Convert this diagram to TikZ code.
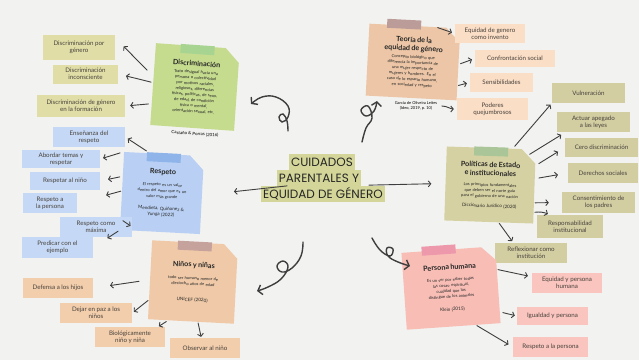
\documentclass[tikz,border=0pt]{standalone}
\usepackage{fontspec}
\setmainfont{Lato}
\newfontfamily\headfont{Poppins}
\usetikzlibrary{arrows.meta,shapes.misc}

\definecolor{paper}{RGB}{242,242,240}
\definecolor{ink}{RGB}{62,62,62}
\definecolor{txt}{RGB}{72,66,60}
\definecolor{centre}{RGB}{211,214,152}
\definecolor{discbox}{RGB}{224,222,166}
\definecolor{discfill}{RGB}{197,219,142}
\definecolor{disctab}{RGB}{168,212,146}
\definecolor{respbox}{RGB}{197,217,246}
\definecolor{respfill}{RGB}{185,208,244}
\definecolor{resptab}{RGB}{142,180,234}
\definecolor{ninbox}{RGB}{242,206,172}
\definecolor{ninfill}{RGB}{240,202,168}
\definecolor{nintab}{RGB}{198,162,156}
\definecolor{teobox}{RGB}{251,222,198}
\definecolor{teofill}{RGB}{236,198,166}
\definecolor{teotab}{RGB}{188,156,152}
\definecolor{polbox}{RGB}{211,206,162}
\definecolor{polfill}{RGB}{214,209,162}
\definecolor{poltab}{RGB}{170,198,152}
\definecolor{perbox}{RGB}{249,197,190}
\definecolor{perfill}{RGB}{248,190,182}
\definecolor{pertab}{RGB}{238,152,172}

\newcommand{\tinytext}{\fontsize{4.1}{5.6}\selectfont}
\newcommand{\notetitle}{\fontsize{7.2}{8.6}\selectfont\bfseries}
\newcommand{\citetext}{\fontsize{4.6}{6}\selectfont}

\begin{document}
\begin{tikzpicture}[x=1pt, y=-1pt,
    box/.style={rectangle, inner sep=1pt, align=center, text=txt,
        font=\fontsize{6.2}{7.2}\selectfont},
    note/.style={chamfered rectangle, chamfered rectangle corners=north east,
        chamfered rectangle xsep=7pt, chamfered rectangle ysep=7pt,
        inner sep=2pt, align=center, text=black!85, font=\tinytext},
    tab/.style={rectangle, minimum width=34pt, minimum height=9pt, inner sep=0pt},
    arr/.style={draw=ink, line width=0.9pt, line cap=round,
        -{Straight Barb[length=2.5pt,width=6pt]}},
    curl/.style={draw=ink, line width=1.4pt, line cap=round,
        -{Straight Barb[length=4pt,width=10pt]}},
    head/.style={fill=centre, inner sep=2pt, minimum height=16.5pt, text=black!85,
        font=\headfont\fontsize{12}{12.5}\selectfont}
]
    % Paper
    \path[use as bounding box, fill=paper] (0,0) rectangle (639,360);

    % Central title
    \node[head] (c3) at (323,194) {EQUIDAD DE GÉNERO};
    \node[head] (c2) at (319,178) {PARENTALES Y};
    \node[head] (c1) at (322,162) {CUIDADOS};

    % Discriminacion
    \node[note, fill=discfill, rotate=-4, minimum width=70pt, minimum height=82pt, text width=66pt] (discnote) at (195,87)
        {{\notetitle Discriminación\par}\vspace{2pt}
         Trato desigual hacia una\\persona o colectividad\\por motivos raciales,\\religiosos, diferencias\\físicas, políticas, de sexo,\\de edad, de condición\\física o mental,\\orientación sexual, etc.\par};
    \node[tab, fill=disctab, rotate=-4, anchor=north] (disctab) at ([yshift=1pt]discnote.north) {};
    \node[font=\fontsize{4.4}{5}\selectfont, rotate=-4] (disccite) at (195,134) {Castaño \& Porras (2016)};
    \node[box, fill=discbox, minimum width=72pt, minimum height=25pt] (dgen) at (79,47.5) {Discriminación por\\género};
    \node[box, fill=discbox, minimum width=65pt, minimum height=19pt] (dinc) at (85.5,74) {Discriminación\\inconsciente};
    \node[box, fill=discbox, minimum width=88pt, minimum height=22pt] (dfor) at (81,106) {Discriminación de género\\en la formación};

    % Respeto
    \node[note, fill=respfill, rotate=-3, minimum width=66pt, minimum height=78pt, text width=62pt] (respnote) at (162,193)
        {{\notetitle Respeto\par}\vspace{6pt}
         {\fontsize{4.1}{6}\selectfont El respeto es un valor\\dentro del amor que es un\\valor más grande\par}\vspace{6pt}
         {\citetext Mendieta, Quiñonez \&\\Yunga (2022)\par}};
    \node[tab, fill=resptab, rotate=-3, anchor=north] (resptab) at ([yshift=1pt]respnote.north) {};
    \node[box, fill=respbox, minimum width=72pt, minimum height=20pt] (rens) at (89,137) {Enseñanza del\\respeto};
    \node[box, fill=respbox, minimum width=78pt, minimum height=18pt] (rabo) at (61,159) {Abordar temas y\\respetar};
    \node[box, fill=respbox, minimum width=70pt, minimum height=18pt] (rnin) at (65,181) {Respetar al niño};
    \node[box, fill=respbox, minimum width=54pt, minimum height=20pt] (rper) at (50,203) {Respeto a\\la persona};
    \node[box, fill=respbox, minimum width=72pt, minimum height=20pt] (rmax) at (96,227) {Respeto como\\máxima};
    \node[box, fill=respbox, minimum width=71pt, minimum height=21pt] (rpre) at (57.5,247.5) {Predicar con el\\ejemplo};

    % Ninos y ninas
    \node[note, fill=ninfill, rotate=-3, minimum width=73pt, minimum height=79pt, text width=68pt] (ninnote) at (193,282)
        {{\notetitle Niños y niñas\par}\vspace{7pt}
         todo ser humano menor de\\dieciocho años de edad\par\vspace{10pt}
         {\citetext UNICEF (2020)\par}};
    \node[tab, fill=nintab, rotate=-3, anchor=north] (nintab) at ([yshift=1pt]ninnote.north) {};
    \node[box, fill=ninbox, minimum width=70pt, minimum height=20pt] (ndef) at (58,288) {Defensa a los hijos};
    \node[box, fill=ninbox, minimum width=72pt, minimum height=20pt] (ndej) at (96,313) {Dejar en paz a los\\niños};
    \node[box, fill=ninbox, minimum width=70pt, minimum height=20pt] (nbio) at (130,337) {Biológicamente\\niño y niña};
    \node[box, fill=ninbox, minimum width=70pt, minimum height=20pt] (nobs) at (205,348) {Observar al niño};

    % Teoria de la equidad de genero
    \node[note, fill=teofill, rotate=-3, minimum width=77pt, minimum height=72pt, text width=73pt] (teonote) at (413,62)
        {{\notetitle Teoría de la\\equidad de género\par}\vspace{2pt}
         Concepto biológico que\\diferencia la importancia de\\una mujer respecto de\\mujeres y hombres. En el\\caso de lo espacio humano,\\en sociedad y respeto\par};
    \node[tab, fill=teotab, rotate=-3, anchor=south] (teotab) at ([xshift=-11pt,yshift=-3pt]teonote.north) {};
    \node[font=\fontsize{4}{4.8}\selectfont, align=center] (teocite) at (416,106) {García de Oliveira Leites\\(Ideo, 2019, p. 10)};
    \node[box, fill=teobox, minimum width=70pt, minimum height=19pt] (teq) at (490,33.5) {Equidad de genero\\como invento};
    \node[box, fill=teobox, minimum width=80pt, minimum height=17pt] (tcon) at (515,58.5) {Confrontación social};
    \node[box, fill=teobox, minimum width=63pt, minimum height=19pt] (tsen) at (501.5,82.5) {Sensibilidades};
    \node[box, fill=teobox, minimum width=71pt, minimum height=22pt] (tpod) at (492.5,109) {Poderes\\quejumbrosos};

    % Politicas de Estado e institucionales
    \node[note, fill=polfill, rotate=-2, minimum width=75pt, minimum height=74pt, text width=71pt] (polnote) at (490,185)
        {{\notetitle Políticas de Estado\\e institucionales\par}\vspace{5pt}
         Los principios fundamentales\\que deben ser el norte guía\\para el gobierno de una nación\par\vspace{4pt}
         {\citetext Diccionario Jurídico (2020)\par}};
    \node[tab, fill=poltab, rotate=-2, anchor=north] (poltab) at ([yshift=1pt]polnote.north) {};
    \node[box, fill=polbox, minimum width=73pt, minimum height=20pt] (pvul) at (588.5,93) {Vulneración};
    \node[box, fill=polbox, minimum width=73pt, minimum height=20pt] (pact) at (593.5,122) {Actuar apegado\\a las leyes};
    \node[box, fill=polbox, minimum width=73pt, minimum height=19pt] (pcer) at (601.5,147.5) {Cero discriminación};
    \node[box, fill=polbox, minimum width=70pt, minimum height=20pt] (pder) at (603,173) {Derechos sociales};
    \node[box, fill=polbox, minimum width=73pt, minimum height=21pt] (pcon) at (598.5,202.5) {Consentimiento de\\los padres};
    \node[box, fill=polbox, minimum width=66pt, minimum height=23pt] (pres) at (570,226.5) {Responsabilidad\\institucional};
    \node[box, fill=polbox, minimum width=72pt, minimum height=20pt] (pref) at (531,253) {Reflexionar como\\institución};

    % Persona humana
    \node[note, fill=perfill, rotate=4, minimum width=82pt, minimum height=77pt, text width=76pt] (pernote) at (451,288)
        {{\notetitle Persona humana\par}\vspace{6pt}
         Es un ser por saber todas\\las cosas, espiritual,\\cualidad que los\\distingue de los animales\par\vspace{7pt}
         {\citetext Klein (2015)\par}};
    \node[tab, fill=pertab, rotate=4, anchor=north] (pertab) at ([xshift=-10pt,yshift=4pt]pernote.north) {};
    \node[box, fill=perbox, minimum width=70pt, minimum height=20pt] (heq) at (567,283) {Equidad y persona\\humana};
    \node[box, fill=perbox, minimum width=71pt, minimum height=18pt] (hig) at (552.5,316) {Igualdad y persona};
    \node[box, fill=perbox, minimum width=75pt, minimum height=20pt] (hres) at (550.5,347) {Respeto a la persona};

    % Arrows from the centre
    \draw[arr, shorten <=4pt, shorten >=32pt] (c3.165) -- (respnote.east);
    \draw[arr, shorten <=14pt, shorten >=14pt] (c3.15) -- (polnote.west);

    % Arrows to the boxes
    \draw[arr, shorten <=9pt, shorten >=12pt] (discnote.170) -- (dgen.15);
    \draw[arr, shorten <=2pt, shorten >=8pt] (discnote.178) -- (dinc.east);
    \draw[arr, shorten <=3pt, shorten >=5pt] (discnote.205) -- (dfor.east);

    \draw[arr, shorten <=4pt, shorten >=3pt] (respnote.110) -- (rens.east);
    \draw[arr, shorten <=4pt, shorten >=3pt] (respnote.north west) -- (rabo.east);
    \draw[arr, shorten <=3pt, shorten >=8pt] (respnote.160) -- (rnin.east);
    \draw[arr, shorten <=1pt, shorten >=30pt] (respnote.west) -- (rper.east);
    \draw[arr, shorten <=3pt, shorten >=2pt] (respnote.215) -- (rmax.east);
    \draw[arr, shorten <=2pt, shorten >=17pt] (respnote.south west) -- (rpre.east);

    \draw[arr, shorten <=11pt, shorten >=17pt] (ninnote.west) -- (ndef.east);
    \draw[arr, shorten <=1pt, shorten >=2pt] (ninnote.205) -- (ndej.east);
    \draw[arr, shorten <=2pt, shorten >=1pt] (ninnote.240) -- (nbio.20);
    \draw[arr, shorten <=1pt, shorten >=1pt] (ninnote.-80) -- (nobs.110);

    \draw[arr, shorten <=2pt, shorten >=3pt] (teonote.60) -- (teq.west);
    \draw[arr, shorten <=2pt, shorten >=3pt] (teonote.east) -- (tcon.west);
    \draw[arr, shorten <=1pt, shorten >=3pt] (teonote.-25) -- (tsen.west);
    \draw[arr, shorten <=1pt, shorten >=3pt] (teocite.east) to[out=0, in=180] (tpod.west);

    \draw[arr, shorten <=3pt, shorten >=2pt] (polnote.60) -- (pvul.south west);
    \draw[arr, shorten <=2pt, shorten >=5pt] (polnote.40) -- (pact.200);
    \draw[arr, shorten <=4pt, shorten >=8pt] (polnote.25) -- (pcer.west);
    \draw[arr, shorten <=4pt, shorten >=10pt] (polnote.10) -- (pder.west);
    \draw[arr, shorten <=1pt, shorten >=13pt] (polnote.-20) -- (pcon.west);
    \draw[arr, shorten <=1pt, shorten >=2pt] (polnote.-30) to[bend left=15] (pres.150);
    \draw[arr, shorten <=1pt, shorten >=2pt] (polnote.-75) -- (pref.150);

    \draw[arr, shorten <=1pt, shorten >=4pt] (pernote.18) -- (heq.170);
    \draw[arr, shorten <=3pt, shorten >=2pt] (pernote.-30) -- (hig.west);
    \draw[arr, shorten <=1pt, shorten >=5pt] (pernote.-60) -- (hres.west);

    % Hand drawn curls
    \draw[curl] plot[smooth, tension=0.7] coordinates {(288,131) (287,121) (283,114) (279,117) (282,122) (288,117) (288,106) (276,97) (262,97) (251,104)};
    \draw[curl] plot[smooth, tension=0.7] coordinates {(303,242) (301,256) (292,268) (282,272) (277,266) (283,261) (288,267) (281,279) (268,287) (257,291)};
    \draw[curl] plot[smooth, tension=0.7] coordinates {(362,142) (366,128) (372,118) (368,106) (361,110) (366,116) (374,111) (377,101)};
    \draw[curl] plot[smooth, tension=0.7] coordinates {(372,238) (380,250) (390,256) (393,249) (387,248) (388,256) (398,262) (410,266)};
\end{tikzpicture}
\end{document}
